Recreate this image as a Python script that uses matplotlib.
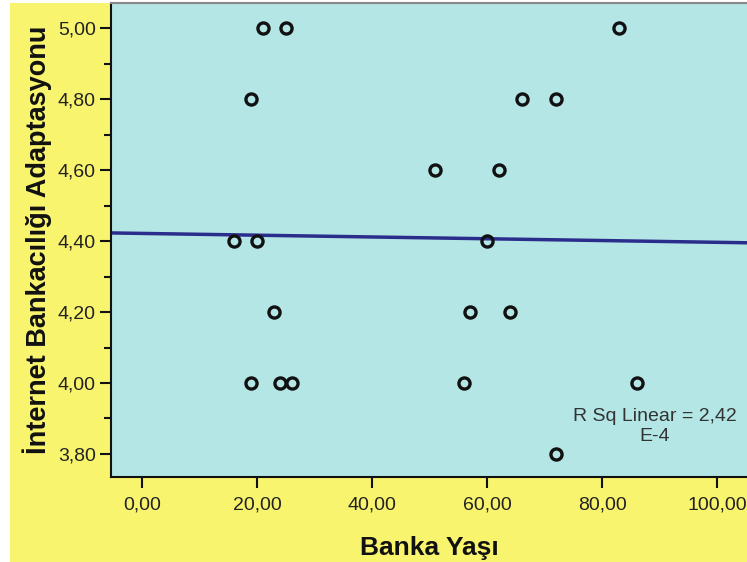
import numpy as np
import matplotlib.pyplot as plt
from matplotlib.patches import Rectangle
from matplotlib.ticker import FuncFormatter, MultipleLocator

plt.rcParams['font.family'] = ['Liberation Sans', 'DejaVu Sans']

# Banka Yaşı vs İnternet Bankacılığı Adaptasyonu
banka_yasi = [21, 25, 83, 19, 66, 72, 51, 62, 16, 20, 60,
              23, 57, 64, 19, 24, 26, 56, 86, 72]
adaptasyon = [5.0, 5.0, 5.0, 4.8, 4.8, 4.8, 4.6, 4.6, 4.4, 4.4, 4.4,
              4.2, 4.2, 4.2, 4.0, 4.0, 4.0, 4.0, 4.0, 3.8]
x_ticks = [0, 20, 40, 60, 80, 100]
y_ticks = [3.8, 4.0, 4.2, 4.4, 4.6, 4.8, 5.0]

W, H = 747, 562
fig = plt.figure(figsize=(W / 100, H / 100), dpi=100, facecolor='white')

# yellow chart panel
fig.patches.append(Rectangle((10 / W, 0), 1 - 10 / W, 1 - 3 / H,
                             transform=fig.transFigure, facecolor='#f9f46e',
                             edgecolor='none', zorder=-5))

ax = fig.add_axes([111 / W, (H - 477) / H, (W - 111) / W, (477 - 3) / H])
ax.set_facecolor('#b4e6e6')

ax.plot(banka_yasi, adaptasyon, 'o', ms=8, mfc='none', mec='#111111', mew=2.4,
        zorder=3)

# linear fit line
slope, intercept = np.polyfit(banka_yasi, adaptasyon, 1)
xl = np.array([-5.4, 105.2])
ax.plot(xl, intercept + slope * xl, color='#2b2d8c', lw=2.5, zorder=2)

ax.text(89.2, 3.877, 'R Sq Linear = 2,42\nE-4', ha='center', va='center',
        fontsize=14, color='#333333', linespacing=1.2)

ax.set_xlim(-5.4, 105.2)
ax.set_ylim(3.735, 5.071)
ax.set_xticks(x_ticks)
ax.set_yticks(y_ticks)
ax.yaxis.set_minor_locator(MultipleLocator(0.1))
fmt = FuncFormatter(lambda v, p: ('%.2f' % v).replace('.', ','))
ax.xaxis.set_major_formatter(fmt)
ax.yaxis.set_major_formatter(fmt)
ax.tick_params(axis='both', which='major', length=8, width=1.5, color='#111111',
               labelsize=14, labelcolor='#222222', pad=3)
ax.tick_params(axis='x', which='major', pad=6)
ax.tick_params(axis='y', which='minor', length=5, width=1.5, color='#111111')

for s in ['left', 'bottom']:
    ax.spines[s].set_color('#111111')
    ax.spines[s].set_linewidth(1.5)
ax.spines['top'].set_color('#888888')
ax.spines['top'].set_linewidth(1.5)
ax.spines['right'].set_visible(False)

ax.set_xlabel('Banka Yaşı', fontsize=19, fontweight='bold', color='#111111',
              labelpad=16)
ax.set_ylabel('İnternet Bankacılığı Adaptasyonu', fontsize=19.5,
              fontweight='bold', color='#111111', labelpad=4)

fig.savefig('out.png', dpi=100, facecolor='white')
